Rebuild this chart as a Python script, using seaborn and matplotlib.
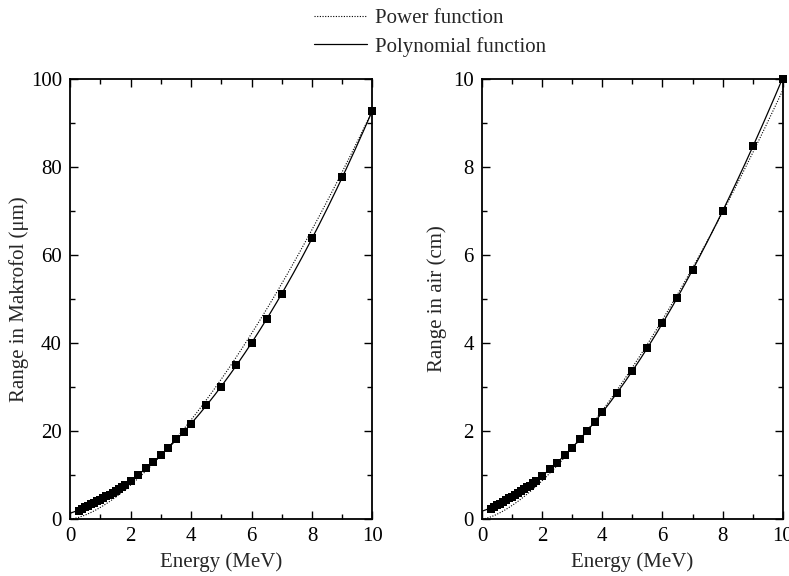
import numpy as np
import pandas as pd
import matplotlib
matplotlib.use('Agg')
import matplotlib.pyplot as plt
from matplotlib.ticker import MultipleLocator
from matplotlib.lines import Line2D
import seaborn as sns

sns.set_style('ticks')
plt.rcParams['font.family'] = ['Liberation Serif', 'DejaVu Serif']

# ===== Data =====
energy = [0.3, 0.4, 0.5, 0.6, 0.7, 0.8, 0.9, 1.0, 1.1, 1.2, 1.3, 1.4, 1.5, 1.6,
          1.7, 1.8, 2.0, 2.25, 2.5, 2.75, 3.0, 3.25, 3.5, 3.75, 4.0, 4.5, 5.0,
          5.5, 6.0, 6.5, 7.0, 8.0, 9.0, 10.0]
range_makrofol = [1.9, 2.3, 2.7, 3.0, 3.4, 3.7, 4.1, 4.4, 4.8, 5.2, 5.5, 5.9,
                  6.3, 6.7, 7.2, 7.7, 8.7, 10.0, 11.5, 12.9, 14.6, 16.2, 18.1,
                  19.8, 21.6, 25.8, 30.1, 34.9, 39.9, 45.4, 51.2, 63.8, 77.6, 92.8]
range_air = [0.23, 0.27, 0.31, 0.35, 0.39, 0.43, 0.47, 0.51, 0.55, 0.59, 0.63,
             0.67, 0.72, 0.76, 0.81, 0.86, 0.98, 1.13, 1.28, 1.45, 1.62, 1.82,
             2.01, 2.21, 2.42, 2.87, 3.36, 3.88, 4.45, 5.03, 5.65, 7.00, 8.48, 10.0]

# power-law fit parameters (R = a * E**b), estimated from the dotted curves
power_makrofol = (2.64, 1.546)
power_air = (0.308, 1.50)

df = pd.DataFrame({'energy': energy, 'makrofol': range_makrofol, 'air': range_air})

DOT = (0, (1, 1.4))


def draw_panel(ax, col, power, ymax, ymajor, ylabel, labelpad):
    e_grid = np.linspace(0, 10, 400)
    a, b = power
    poly = np.polyfit(df['energy'], df[col], 3)
    curves = pd.DataFrame({'energy': e_grid,
                           'power': a * e_grid ** b,
                           'poly': np.polyval(poly, e_grid)})
    sns.lineplot(data=curves, x='energy', y='power', ax=ax, color='black',
                 linestyle=DOT, linewidth=0.8)
    sns.lineplot(data=curves, x='energy', y='poly', ax=ax, color='black',
                 linewidth=0.9)
    sns.scatterplot(data=df, x='energy', y=col, ax=ax, marker='s', color='black',
                    s=36, edgecolor='black', linewidth=0, zorder=5, clip_on=False)
    ax.set_xlim(0, 10)
    ax.set_ylim(0, ymax)
    ax.xaxis.set_major_locator(MultipleLocator(2))
    ax.xaxis.set_minor_locator(MultipleLocator(1))
    ax.yaxis.set_major_locator(MultipleLocator(ymajor))
    ax.yaxis.set_minor_locator(MultipleLocator(ymajor / 2))
    ax.tick_params(which='both', direction='in', top=True, right=True,
                   labelsize=15, width=1, colors='black', pad=6)
    ax.tick_params(which='major', length=6)
    ax.tick_params(which='minor', length=3.5)
    for sp in ax.spines.values():
        sp.set_visible(True)
        sp.set_linewidth(1.3)
        sp.set_color('black')
    ax.set_xlabel('Energy (MeV)', fontsize=15)
    ax.set_ylabel(ylabel, fontsize=15, labelpad=labelpad)


fig = plt.figure(figsize=(7.89, 5.76), dpi=100)
ax1 = fig.add_axes([0.089, 0.099, 0.383, 0.764])
ax2 = fig.add_axes([0.611, 0.099, 0.381, 0.764])

draw_panel(ax1, 'makrofol', power_makrofol, 100, 20, 'Range in Makrofol (μm)', 1)
draw_panel(ax2, 'air', power_air, 10, 2, 'Range in air (cm)', 4)

handles = [Line2D([], [], color='black', linestyle=DOT, linewidth=0.8),
           Line2D([], [], color='black', linewidth=0.9)]
fig.legend(handles, ['Power function', 'Polynomial function'],
           loc='upper left', bbox_to_anchor=(0.388, 1.0), frameon=False,
           fontsize=15, handlelength=2.5, handletextpad=0.4, labelspacing=0.42,
           borderaxespad=0.0)

fig.savefig('out.png', dpi=100)
